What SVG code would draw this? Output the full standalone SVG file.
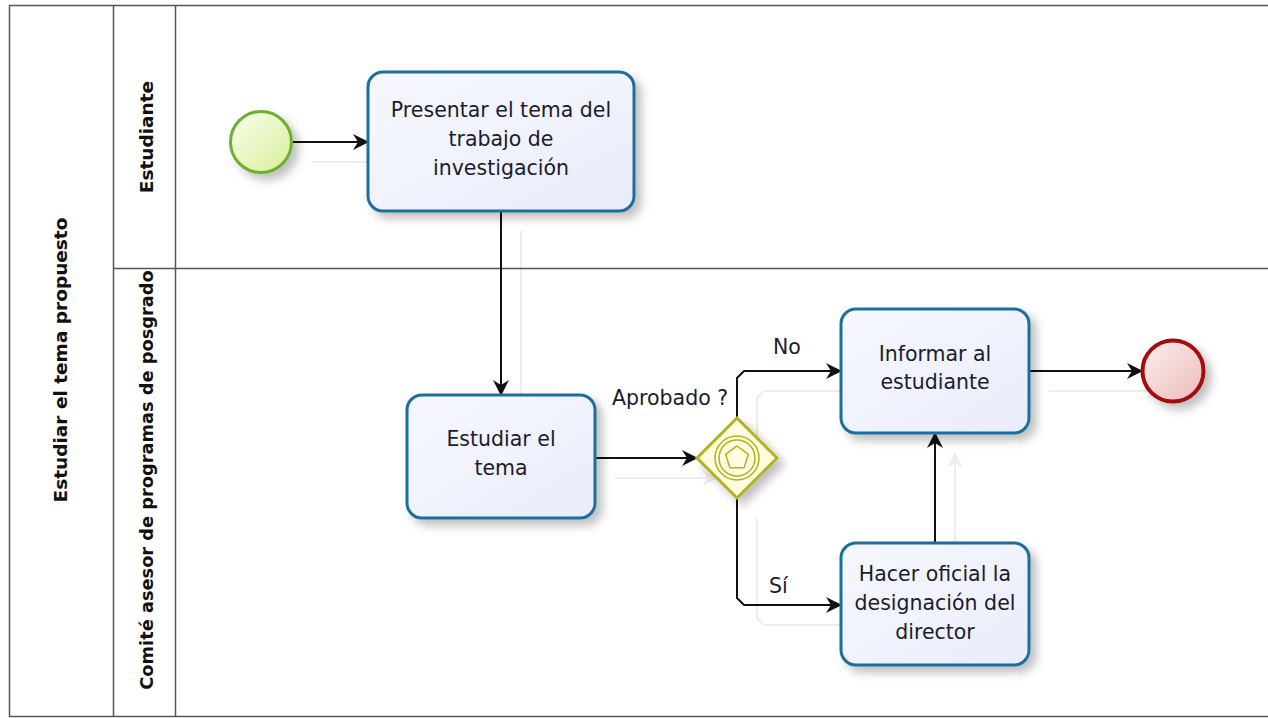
<svg xmlns="http://www.w3.org/2000/svg" xmlns:xlink="http://www.w3.org/1999/xlink" width="1268" height="718" viewBox="0 0 1268 718">
<style>
.lane{fill:none;stroke:#555;stroke-width:1.5}
.hdr{font-family:"DejaVu Sans","Open Sans",sans-serif;font-weight:bold;font-size:18.5px;fill:#111;text-anchor:middle}
.task{fill:url(#tg);stroke:#1f6e9c;stroke-width:3}
.tt{font-family:"DejaVu Sans","Open Sans",sans-serif;font-size:20.5px;fill:#1c1c2c;text-anchor:middle}
.lbl{font-family:"DejaVu Sans","Open Sans",sans-serif;font-size:20.5px;fill:#1c1c2c}
.flow{fill:none;stroke:#111;stroke-width:2}
</style>
<defs>
<linearGradient id="tg" x1="0" y1="0" x2="1" y2="1"><stop offset="0" stop-color="#f7f8fe"/><stop offset="1" stop-color="#e9ecfa"/></linearGradient>
<linearGradient id="sg" x1="0" y1="0" x2="1" y2="1"><stop offset="0" stop-color="#fbfeef"/><stop offset="1" stop-color="#d8ef98"/></linearGradient>
<linearGradient id="eg" x1="0" y1="0" x2="1" y2="1"><stop offset="0" stop-color="#fdf0f0"/><stop offset="1" stop-color="#ecb9b9"/></linearGradient>
<filter id="sh" x="-20%" y="-20%" width="150%" height="150%"><feDropShadow dx="6" dy="6" stdDeviation="5" flood-color="#000" flood-opacity="0.25"/></filter>
<marker id="ar" markerWidth="16" markerHeight="16" refX="15" refY="8" orient="auto" markerUnits="userSpaceOnUse"><path d="M0,0 L16,8 L0,16 L5,8 Z" fill="#111"/></marker>
</defs>

<g id="pool">
<rect class="lane" x="9.5" y="5.5" width="1270" height="711"/>
<line class="lane" x1="113.5" y1="5" x2="113.5" y2="717"/>
<line class="lane" x1="175.5" y1="5" x2="175.5" y2="717"/>
<line class="lane" x1="113" y1="268.5" x2="1268" y2="268.5"/>
<text class="hdr" transform="translate(67,360) rotate(-90)">Estudiar el tema propuesto</text>
<text class="hdr" transform="translate(153,137) rotate(-90)">Estudiante</text>
<text class="hdr" style="font-size:17.8px" transform="translate(153,480) rotate(-90)">Comité asesor de programas de posgrado</text>
</g>

<g id="connectors">
<use xlink:href="#flows" transform="translate(20,20)" opacity="0.07"/>
<g id="flows">
<path class="flow" d="M292,142 H368" marker-end="url(#ar)"/>
<path class="flow" d="M501,211 V395" marker-end="url(#ar)"/>
<path class="flow" d="M595,458 H697" marker-end="url(#ar)"/>
<path class="flow" d="M737,418 V378 L744,371 H841" marker-end="url(#ar)"/>
<path class="flow" d="M737,498 V598 L744,605 H841" marker-end="url(#ar)"/>
<path class="flow" d="M935,543 V433" marker-end="url(#ar)"/>
<path class="flow" d="M1029,371 H1142" marker-end="url(#ar)"/>
</g>
<text class="lbl" x="612" y="405">Aprobado ?</text>
<text class="lbl" x="773" y="354">No</text>
<text class="lbl" x="769" y="593">Sí</text>
</g>

<g id="start">
<circle cx="261" cy="142" r="30.5" fill="url(#sg)" stroke="#6bb22e" stroke-width="3" filter="url(#sh)"/>
</g>

<g id="task1">
<rect class="task" x="368" y="72" width="266" height="139" rx="15" filter="url(#sh)"/>
<text class="tt" x="501" y="117">Presentar el tema del</text>
<text class="tt" x="501" y="146">trabajo de</text>
<text class="tt" x="501" y="175">investigación</text>
</g>

<g id="task2">
<rect class="task" x="407" y="395" width="188" height="123" rx="15" filter="url(#sh)"/>
<text class="tt" x="501" y="446">Estudiar el</text>
<text class="tt" x="501" y="475">tema</text>
</g>

<g id="gateway">
<g filter="url(#sh)">
<path d="M737,418 L777,458 L737,498 L697,458 Z" fill="#fffde0" stroke="#b3b21e" stroke-width="3"/>
</g>
<circle cx="737" cy="458" r="22" fill="none" stroke="#b3b21e" stroke-width="1.5"/>
<circle cx="737" cy="458" r="18" fill="none" stroke="#b3b21e" stroke-width="1.5"/>
<path d="M737,446 L748.4,454.3 L744.1,467.7 L729.9,467.7 L725.6,454.3 Z" fill="none" stroke="#b3b21e" stroke-width="1.5"/>
</g>

<g id="task3">
<rect class="task" x="841" y="309" width="188" height="124" rx="15" filter="url(#sh)"/>
<text class="tt" x="935" y="361">Informar al</text>
<text class="tt" x="935" y="389">estudiante</text>
</g>

<g id="task4">
<rect class="task" x="841" y="543" width="188" height="122" rx="15" filter="url(#sh)"/>
<text class="tt" x="935" y="581">Hacer oficial la</text>
<text class="tt" x="935" y="610">designación del</text>
<text class="tt" x="935" y="639">director</text>
</g>

<g id="end">
<circle cx="1173" cy="371" r="30.5" fill="url(#eg)" stroke="#a30f0f" stroke-width="4" filter="url(#sh)"/>
</g>
</svg>
